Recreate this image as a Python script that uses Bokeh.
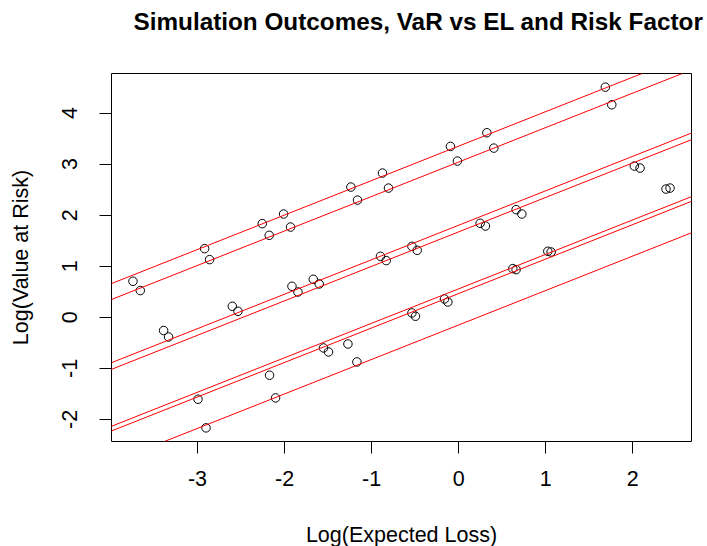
import numpy as np
from bokeh.plotting import figure
from bokeh.models import Range1d, FixedTicker, Slope, Title
from bokeh.embed import file_html
from bokeh.resources import INLINE

# Simulation outcomes: log(expected loss) vs log(value at risk)
log_el = [-3.741, -3.657, -3.389, -3.332, -2.994, -2.902, -2.918, -2.861, -2.600, -2.535,
          -2.256, -2.176, -2.172, -2.103, -2.011, -1.931, -1.915, -1.846, -1.670, -1.602,
          -1.552, -1.495, -1.272, -1.169, -1.238, -1.162, -0.875, -0.806, -0.898, -0.832,
          -0.537, -0.496, -0.537, -0.476, -0.163, -0.124, -0.094, -0.014, 0.247, 0.308,
          0.324, 0.404, 0.622, 0.660, 0.660, 0.726, 1.024, 1.062, 1.685, 1.759,
          2.018, 2.084, 2.382, 2.428]
log_var = [0.705, 0.523, -0.260, -0.386, -1.605, -2.166, 1.344, 1.129, 0.215, 0.117,
           1.834, 1.605, -1.135, -1.579, 2.022, 1.767, 0.607, 0.495, 0.744, 0.652,
           -0.601, -0.679, -0.523, -0.875, 2.550, 2.295, 2.824, 2.530, 1.194, 1.110,
           0.084, 0.020, 1.389, 1.311, 0.358, 0.299, 3.346, 3.059, 1.840, 1.787,
           3.614, 3.313, 0.953, 0.933, 2.108, 2.022, 1.292, 1.278, 4.507, 4.162,
           2.961, 2.922, 2.511, 2.530]

# Fitted lines per risk factor (common slope)
fit_slope = 0.675
fit_intercepts = [3.352, 3.040, 1.802, 1.672, 0.557, 0.465, -0.151]

x_ticks = [-3, -2, -1, 0, 1, 2]
y_ticks = [-2, -1, 0, 1, 2, 3, 4]

title_text = "Simulation Outcomes, VaR vs EL and Risk Factor"

def r_range(vals):
    lo, hi = min(vals), max(vals)
    pad = 0.04 * (hi - lo)
    return lo - pad, hi + pad

xr = r_range(log_el)
yr = r_range(log_var)

FONT = "Liberation Sans"
FS = "21.5px"

p = figure(width=707, height=546, output_backend="svg", toolbar_location=None,
           x_range=Range1d(*xr), y_range=Range1d(*yr),
           frame_width=580, frame_height=368,
           min_border_left=111, min_border_right=16, min_border_top=73, min_border_bottom=105)

# blank spacer between frame and title, then the title itself (stacked outward)
spacer = Title(text=" ", text_font=FONT, text_font_size="24.3px", standoff=8)
main_title = Title(text=title_text, text_font=FONT, text_font_size="24.3px",
                   text_font_style="bold", text_color="black",
                   align="left", offset=22, vertical_align="top", standoff=0)
p.add_layout(spacer, "above")
p.add_layout(main_title, "above")

p.grid.visible = False
p.outline_line_color = "black"
p.outline_line_width = 1
p.background_fill_color = "white"
p.border_fill_color = "white"

for ax in (p.xaxis[0], p.yaxis[0]):
    ax.axis_line_color = None
    ax.major_tick_in = 0
    ax.major_tick_out = 12
    ax.minor_tick_line_color = None
    ax.major_tick_line_color = "black"
    ax.major_label_text_font = FONT
    ax.major_label_text_font_size = FS
    ax.major_label_text_color = "black"
    ax.axis_label_text_font = FONT
    ax.axis_label_text_font_size = FS
    ax.axis_label_text_font_style = "normal"
    ax.axis_label_text_color = "black"

p.xaxis.ticker = FixedTicker(ticks=x_ticks)
p.yaxis.ticker = FixedTicker(ticks=y_ticks)
p.xaxis.major_label_overrides = {t: str(t) for t in x_ticks}
p.yaxis.major_label_overrides = {t: str(t) for t in y_ticks}
p.xaxis.axis_label = "Log(Expected Loss)"
p.yaxis.axis_label = "Log(Value at Risk)"
p.xaxis.major_label_standoff = 17
p.yaxis.major_label_standoff = 22
p.yaxis.major_label_orientation = "vertical"
p.xaxis.axis_label_standoff = 34
p.yaxis.axis_label_standoff = 27

for b in fit_intercepts:
    p.add_layout(Slope(gradient=fit_slope, y_intercept=b, line_color="#FF0000", line_width=1))

p.scatter(log_el, log_var, marker="circle", size=8.5, fill_color=None,
          line_color="black", line_width=1)

open("out.html", "w").write(file_html(p, INLINE))
